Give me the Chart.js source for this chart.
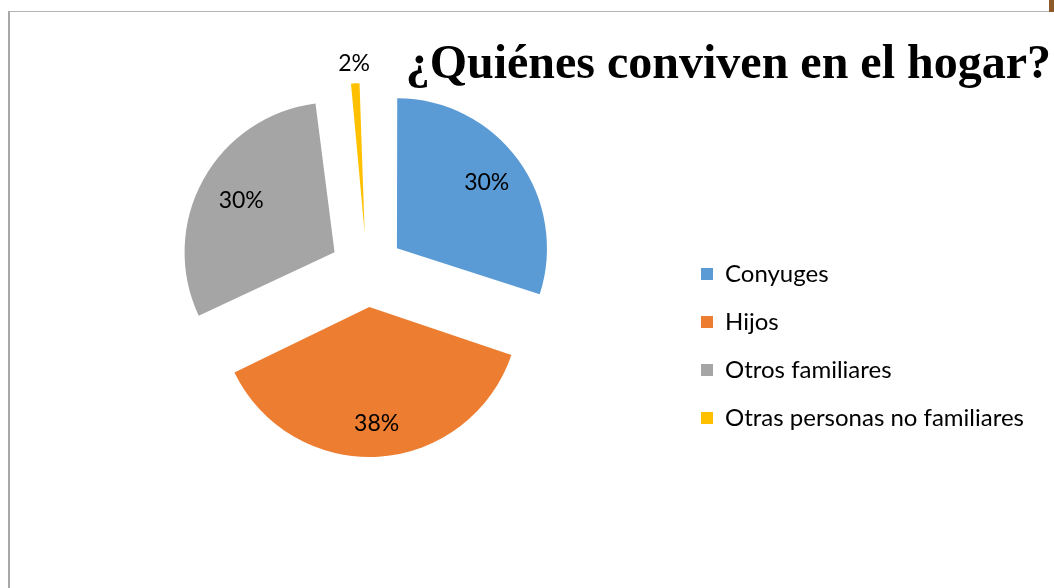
<!DOCTYPE html>
<html lang="es">
<head>
<meta charset="utf-8">
<title>¿Quiénes conviven en el hogar?</title>
<script src="https://cdn.jsdelivr.net/npm/chart.js@4.4.1/dist/chart.umd.min.js"></script>
<style>
  html, body { margin: 0; padding: 0; background: #fff; }
  #marco { position: absolute; left: 8px; top: 11px; width: 1046px; height: 577px;
           border-left: 2px solid #a8a8a8; border-top: 1px solid #b4b4b4; }
  #esquina { position: absolute; right: 0; top: 0; width: 5px; height: 12px; background: #8d5b2b; }
  #contenedor { position: absolute; left: 0; top: 0; width: 1054px; height: 588px; }
</style>
</head>
<body>
<div id="marco"></div>
<div id="esquina"></div>
<div id="contenedor"><canvas id="graficaHogar"></canvas></div>
<script>
const categorias = ['Conyuges', 'Hijos', 'Otros familiares', 'Otras personas no familiares'];
const porcentajes = [30, 38, 30, 2];
const etiquetas = ['30%', '38%', '30%', '2%'];
const colores = ['#5B9BD5', '#ED7D31', '#A5A5A5', '#FFC000'];

const RADIO = 150;      // radio del pastel
const SEPARA = 37;      // separacion de cada porcion
const posEtiqueta = [0.74, 0.78, 0.71, 1.13];

// ancho del texto mas largo de la leyenda, para dejarla en su sitio
const medir = document.createElement('canvas').getContext('2d');
medir.font = '24px Lato';
const anchoLeyenda = Math.max(...categorias.map(c => medir.measureText(c).width));

const etiquetasPlugin = {
    id: 'etiquetas',
    afterLayout(chart) {
        // titulo pegado al borde derecho
        chart.titleBlock.right = chart.width - 3;
    },
    beforeDatasetsDraw(chart) {
        // Chart.js agranda las porciones pequeñas al separarlas; se corrige el radio
        chart.getDatasetMeta(0).data.forEach(arc => {
            const fix = 1 - Math.sin(Math.min(Math.PI, arc.circumference));
            arc.outerRadius = RADIO - SEPARA * fix;
        });
    },
    afterDatasetsDraw(chart) {
        const ctx = chart.ctx;
        ctx.save();
        ctx.font = '23px Lato';
        ctx.fillStyle = '#000';
        ctx.textAlign = 'center';
        ctx.textBaseline = 'middle';
        chart.getDatasetMeta(0).data.forEach((arc, i) => {
            const medio = (arc.startAngle + arc.endAngle) / 2;
            const r = SEPARA + posEtiqueta[i] * RADIO;
            ctx.fillText(etiquetas[i], arc.x + Math.cos(medio) * r, arc.y + Math.sin(medio) * r);
        });
        ctx.restore();
    }
};

new Chart(document.getElementById('graficaHogar'), {
    type: 'pie',
    data: {
        labels: categorias,
        datasets: [{
            data: porcentajes,
            backgroundColor: colores,
            borderWidth: 0,
            offset: SEPARA * 4,
            hoverOffset: 0
        }]
    },
    options: {
        responsive: true,
        maintainAspectRatio: false,
        animation: false,
        radius: RADIO,
        layout: {
            padding: { left: 57, right: 319 - anchoLeyenda, top: 0, bottom: 134 }
        },
        plugins: {
            title: {
                display: true,
                text: '¿Quiénes conviven en el hogar?',
                align: 'end',
                color: '#000',
                font: { family: 'Liberation Serif', size: 48, weight: 'bold', lineHeight: '40px' },
                padding: { top: 46, bottom: 0 }
            },
            legend: {
                position: 'right',
                align: 'end',
                labels: {
                    boxWidth: 12,
                    boxHeight: 12,
                    padding: 24,
                    color: '#000',
                    font: { family: 'Lato', size: 24 }
                }
            },
            tooltip: { enabled: false }
        }
    },
    plugins: [etiquetasPlugin]
});
</script>
</body>
</html>
